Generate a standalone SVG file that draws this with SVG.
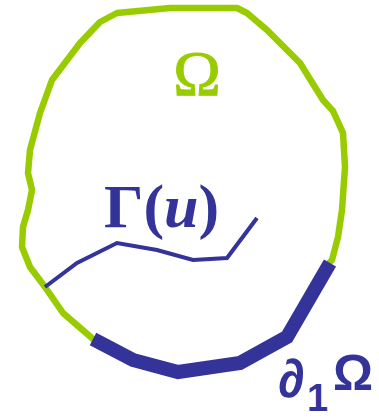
<svg xmlns="http://www.w3.org/2000/svg" width="379" height="418" viewBox="0 0 379 418">
<style>
.g{fill:none;stroke:#99cc00;stroke-width:6.5;stroke-linejoin:round;stroke-linecap:round}
.b{fill:none;stroke:#333399;stroke-linejoin:miter}
.serif{font-family:"Liberation Serif","Times New Roman",serif}
.sans{font-family:"Liberation Sans",Arial,sans-serif;font-weight:bold;fill:#333399}
</style>
<rect width="379" height="418" fill="#fff"/>
<g id="omega-boundary">
<path class="g" d="M93,339 L63,313 L45,287 L30,267 L22,247 L23,227 L28,210 L32,190 L28,173 L30,150 L40,113 L52,80 L80,43 L100,22 L117,13 L170,8 L237,8 L247,13 L267,30 L300,63 L323,100 L333,111 L343,133 L345,167 L342,210 L338,237 L332,260 L328,264"/>
</g>
<g id="connectors">
<polyline id="gamma-curve" class="b" stroke-width="4" points="45,287 77,263 117,243 157,250 193,260 227,258 257,218"/>
<polyline id="d1-omega" class="b" stroke-width="14" points="93,339 133,360 178,372 240,363 287,337 330,263"/>
</g>
<g id="label-omega">
<text class="serif" x="197" y="95" font-size="64" fill="#99cc00" text-anchor="middle" stroke="#99cc00" stroke-width="1">Ω</text>
</g>
<g id="label-gamma">
<text class="serif" x="104" y="227" font-size="62" font-weight="bold" fill="#333399">Γ(<tspan font-style="italic">u</tspan>)</text>
</g>
<g id="label-d1omega">
<text class="sans" font-size="54"><tspan x="278" y="397">∂</tspan><tspan x="307" y="411" font-size="38">1</tspan><tspan x="333" y="390" font-size="50">Ω</tspan></text>
</g>
</svg>
